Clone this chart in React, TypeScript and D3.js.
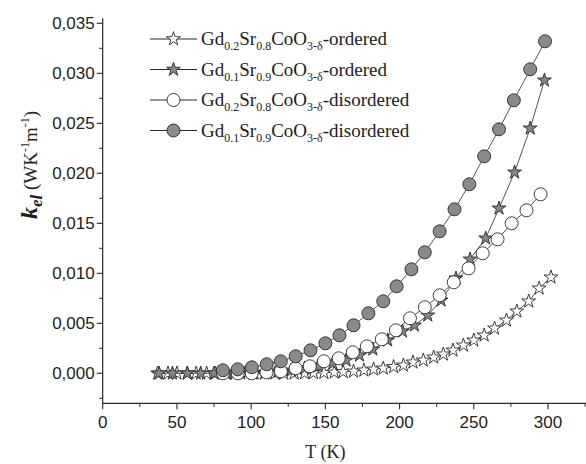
import React from "react";
import * as d3 from "d3";

// Temperature (K) and electronic thermal conductivity k_el (W K^-1 m^-1)
const tOrd02 = [37, 44, 50, 57, 63, 70, 76, 83, 89, 96, 102, 109, 116, 122, 129, 136, 142, 149, 156, 162, 169, 176, 182.5, 189, 196, 202.6, 209, 216, 223, 229.5, 236, 243, 250, 257, 264, 272, 279, 287, 294, 302];
const kOrd02 = [0, 0, 0, 0, 0, 0, 0, 0, 0, 0, 0, 0, 0, 0, 0.00001, 0.00002, 0.00004, 0.00006, 0.0001, 0.00015, 0.0002, 0.0003, 0.0004, 0.0005, 0.00065, 0.0008, 0.0011, 0.0013, 0.0016, 0.0019, 0.0023, 0.0028, 0.0033, 0.0038, 0.0045, 0.0053, 0.0062, 0.0072, 0.0085, 0.0096];

const tOrd01 = [38, 47, 57, 66, 75, 84, 93, 101, 110, 118, 127, 136, 145, 155, 164, 173, 182, 192, 202, 210, 219, 228, 238, 247.5, 258, 267, 277.5, 288, 297.6];
const kOrd01 = [0, 0, 0, 0, 0, 0, 0, 0, 0.0001, 0.0002, 0.0003, 0.0005, 0.0007, 0.001, 0.0013, 0.0018, 0.0024, 0.0033, 0.0042, 0.0048, 0.0058, 0.0073, 0.0095, 0.0114, 0.0135, 0.0165, 0.0201, 0.0245, 0.0293];

const tDis02 = [81, 91, 100.4, 110.4, 120, 130, 139.5, 149, 159, 168.5, 178, 188, 197.5, 207, 217, 227, 236.5, 246.5, 256, 266, 275.5, 285.5, 295];
const kDis02 = [0, 0, 0, 0.0001, 0.0002, 0.0005, 0.0007, 0.0012, 0.0015, 0.0021, 0.0027, 0.0034, 0.0043, 0.0055, 0.0066, 0.0078, 0.0091, 0.0105, 0.012, 0.0134, 0.015, 0.0163, 0.0179];

const tDis01 = [81, 91, 100.5, 110.5, 120, 130, 140, 150, 159.5, 169, 179, 189, 198, 208, 217, 227, 237, 247, 257, 267, 277, 288, 298];
const kDis01 = [0.0003, 0.0004, 0.0006, 0.0009, 0.0012, 0.0017, 0.0023, 0.003, 0.0038, 0.0048, 0.006, 0.0072, 0.0087, 0.0104, 0.0121, 0.0142, 0.0164, 0.0189, 0.0217, 0.0244, 0.0273, 0.0304, 0.0332];

const xTicks = [0, 50, 100, 150, 200, 250, 300];
const xMinor = [25, 75, 125, 175, 225, 275, 325];
const yTicks = [0, 0.005, 0.01, 0.015, 0.02, 0.025, 0.03, 0.035];
const yMinor = [-0.0025, 0.0025, 0.0075, 0.0125, 0.0175, 0.0225, 0.0275, 0.0325];

type Series = {
  t: number[];
  k: number[];
  shape: "star" | "circle";
  fill: string;
  sub1: string;
  sub2: string;
  suffix: string;
};

const series: Series[] = [
  { t: tOrd02, k: kOrd02, shape: "star", fill: "#ffffff", sub1: "0.2", sub2: "0.8", suffix: "-ordered" },
  { t: tOrd01, k: kOrd01, shape: "star", fill: "#858585", sub1: "0.1", sub2: "0.9", suffix: "-ordered" },
  { t: tDis02, k: kDis02, shape: "circle", fill: "#ffffff", sub1: "0.2", sub2: "0.8", suffix: "-disordered" },
  { t: tDis01, k: kDis01, shape: "circle", fill: "#8a8a8a", sub1: "0.1", sub2: "0.9", suffix: "-disordered" },
];

const W = 586;
const H = 464;
const x = d3.scaleLinear().domain([0, 326]).range([102.7, 586.6]);
const y = d3.scaleLinear().domain([-0.003, 0.0355]).range([403.3, 18.3]);
const fmt = (v: number) => d3.format(".3f")(v).replace(".", ",");

const starPath = d3.symbol().type(d3.symbolStar).size(60)()!;
const circlePath = d3.symbol().type(d3.symbolCircle).size(Math.PI * 6.5 * 6.5)()!;
const line = d3.line<[number, number]>().x((d) => x(d[0])).y((d) => y(d[1]));

const INK = "#2a2a2a";
const SERIF = "'Liberation Serif', 'DejaVu Serif', serif";
const SANS = "'Liberation Sans', Arial, sans-serif";

function Marker({ s, cx, cy }: { s: Series; cx: number; cy: number }) {
  return (
    <path
      d={s.shape === "star" ? starPath : circlePath}
      transform={`translate(${cx},${cy})`}
      fill={s.fill}
      stroke={INK}
      strokeWidth={0.9}
    />
  );
}

export default function App() {
  const x0 = x(0);
  const y0 = y.range()[0];
  return (
    <svg width={W} height={H} style={{ position: "absolute", left: 0, top: 0, background: "#fff" }}>
      {/* axes */}
      <line x1={x0} x2={x0} y1={y.range()[1]} y2={y0} stroke={INK} strokeWidth={1.2} />
      <line x1={x0} x2={x.range()[1]} y1={y0} y2={y0} stroke={INK} strokeWidth={1.2} />
      {xTicks.map((v) => (
        <g key={"xt" + v}>
          <line x1={x(v)} x2={x(v)} y1={y0} y2={y0 + 6} stroke={INK} strokeWidth={1.1} />
          <text x={x(v)} y={y0 + 25} textAnchor="middle" fontFamily={SANS} fontSize={17} fill="#222">
            {v}
          </text>
        </g>
      ))}
      {xMinor.map((v) => (
        <line key={"xm" + v} x1={x(v)} x2={x(v)} y1={y0} y2={y0 + 3.5} stroke={INK} strokeWidth={1} />
      ))}
      {yTicks.map((v) => (
        <g key={"yt" + v}>
          <line x1={x0 - 6} x2={x0} y1={y(v)} y2={y(v)} stroke={INK} strokeWidth={1.1} />
          <text x={x0 - 8} y={y(v) + 6} textAnchor="end" fontFamily={SANS} fontSize={17} fill="#222">
            {fmt(v)}
          </text>
        </g>
      ))}
      {yMinor.map((v) => (
        <line key={"ym" + v} x1={x0 - 3.5} x2={x0} y1={y(v)} y2={y(v)} stroke={INK} strokeWidth={1} />
      ))}

      {/* axis titles */}
      <text x={x(150)} y={458} textAnchor="middle" fontFamily={SERIF} fontSize={18} fill="#222">
        T (K)
      </text>
      <text
        transform={`translate(37,165) rotate(-90)`}
        textAnchor="middle"
        fontFamily={SERIF}
        fontSize={19}
        fill="#222"
      >
        <tspan fontWeight="bold" fontStyle="italic" fontSize={24}>k</tspan>
        <tspan fontWeight="bold" fontStyle="italic" fontSize={17} dy={5}>el</tspan>
        <tspan dy={-5}> (WK</tspan>
        <tspan fontSize={12} dy={-8}>-1</tspan>
        <tspan dy={8}>m</tspan>
        <tspan fontSize={12} dy={-8}>-1</tspan>
        <tspan dy={8}>)</tspan>
      </text>

      {/* series: connecting lines and markers */}
      {series.map((s, i) => {
        const pts = s.t.map((t, j) => [t, s.k[j]] as [number, number]);
        return (
          <g key={"s" + i}>
            <path d={line(pts)!} fill="none" stroke={INK} strokeWidth={0.8} />
            {pts.map((p, j) => (
              <Marker key={j} s={s} cx={x(p[0])} cy={y(p[1])} />
            ))}
          </g>
        );
      })}

      {/* legend */}
      {series.map((s, i) => {
        const ly = 39 + i * 30.5;
        return (
          <g key={"lg" + i}>
            <line x1={150} x2={197} y1={ly} y2={ly} stroke={INK} strokeWidth={1} />
            <Marker s={s} cx={173.5} cy={ly} />
            <text x={201} y={ly + 6} fontFamily={SERIF} fontSize={19} fill="#222">
              <tspan>Gd</tspan>
              <tspan fontSize={12} dy={5}>{s.sub1}</tspan>
              <tspan dy={-5}>Sr</tspan>
              <tspan fontSize={12} dy={5}>{s.sub2}</tspan>
              <tspan dy={-5}>CoO</tspan>
              <tspan fontSize={12} dy={5}>3-δ</tspan>
              <tspan dy={-5}>{s.suffix}</tspan>
            </text>
          </g>
        );
      })}
    </svg>
  );
}
